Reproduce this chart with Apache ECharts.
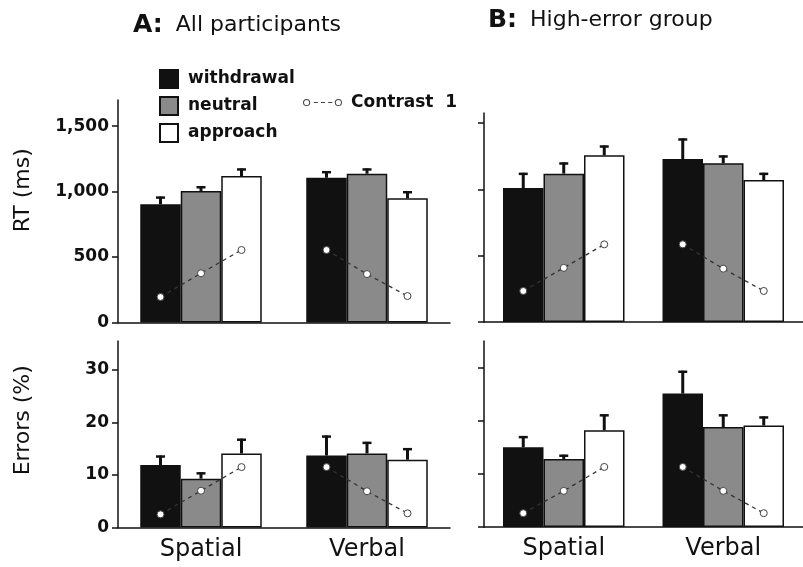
<!DOCTYPE html>
<html>
<head>
<meta charset="utf-8">
<script src="https://cdn.jsdelivr.net/npm/echarts@6/dist/echarts.min.js"></script>
<style>html,body{margin:0;padding:0;background:#fff;}#c{width:803px;height:567px;}</style>
</head>
<body>
<div id="c"></div>
<script>
// ---- data ----
const categories = ['Spatial', 'Verbal'];
const conditions = ['withdrawal', 'neutral', 'approach'];
const rtTicks = [0, 500, 1000, 1500];
const errTicks = [0, 10, 20, 30];

// rows: withdrawal, neutral, approach ; columns: Spatial, Verbal
const rtAllMean = [[903, 1106], [1005, 1137], [1119, 949]];
const rtAllSE = [[59, 50], [36, 40], [58, 54]];
const rtHighMean = [[1010, 1228], [1118, 1196], [1256, 1070]];
const rtHighSE = [[114, 155], [84, 59], [74, 54]];
const errAllMean = [[11.9, 13.7], [9.3, 14.1], [14.1, 12.9]];
const errAllSE = [[1.8, 3.8], [1.2, 2.2], [2.8, 2.2]];
const errHighMean = [[15.0, 25.1], [12.8, 18.8], [18.2, 19.1]];
const errHighSE = [[2.1, 4.3], [0.8, 2.4], [3.0, 1.7]];

// Contrast 1 points; rows: Spatial, Verbal ; columns: withdrawal, neutral, approach
const rtAllContrast = [[195, 376, 554], [554, 370, 202]];
const rtHighContrast = [[234, 408, 585], [585, 402, 234]];
const errAllContrast = [[2.5, 7.0, 11.5], [11.5, 6.9, 2.7]];
const errHighContrast = [[2.6, 6.8, 11.3], [11.3, 6.8, 2.6]];

// ---- styles ----
const BW = 40.5;
const barColors = ['#111111', '#8a8a8a', '#ffffff'];
const FONT = 'DejaVu Sans';

function errRender(params, api) {
  const ci = api.value(0), k = api.value(1), m = api.value(2), se = api.value(3);
  const base = api.coord([ci, m]);
  const top = api.coord([ci, m + se]);
  const x = base[0] + (k - 1) * BW;
  return {
    type: 'group',
    children: [
      { type: 'line', shape: { x1: x, y1: base[1], x2: x, y2: top[1] }, style: { stroke: '#111', lineWidth: 3 } },
      { type: 'line', shape: { x1: x - 4.5, y1: top[1] + 1, x2: x + 4.5, y2: top[1] + 1 }, style: { stroke: '#111', lineWidth: 2.5 } }
    ]
  };
}

function conRender(params, api) {
  const ci = api.value(0);
  const pts = [0, 1, 2].map(function (k) {
    const p = api.coord([ci, api.value(k + 1)]);
    return [p[0] + (k - 1) * BW, p[1]];
  });
  const children = [{
    type: 'polyline', shape: { points: pts },
    style: { stroke: '#333', lineWidth: 1.3, lineDash: [4, 4], fill: null }
  }];
  pts.forEach(function (p) {
    children.push({ type: 'circle', shape: { cx: p[0], cy: p[1], r: 3.5 }, style: { fill: '#fff', stroke: '#444', lineWidth: 1 } });
  });
  return { type: 'group', children: children };
}

const grids = [
  { left: 118, top: 100, right: 353, bottom: 244.5 },
  { left: 484, top: 113, right: -10, bottom: 245 },
  { left: 118, top: 341, right: 353, bottom: 39.5 },
  { left: 484, top: 341, right: -10, bottom: 40 }
];

const panels = [
  { mean: rtAllMean, se: rtAllSE, con: rtAllContrast },
  { mean: rtHighMean, se: rtHighSE, con: rtHighContrast },
  { mean: errAllMean, se: errAllSE, con: errAllContrast },
  { mean: errHighMean, se: errHighSE, con: errHighContrast }
];

const xAxes = grids.map(function (g, i) {
  return {
    type: 'category', gridIndex: i, data: categories,
    axisLine: { show: true, lineStyle: { color: '#111', width: 1.5 } },
    axisTick: { show: false },
    axisLabel: { show: i >= 2, color: '#111', fontFamily: FONT, fontSize: 24, margin: 10 }
  };
});

function fmtTick(v) { return String(v).replace(/\B(?=(\d{3})+(?!\d))/g, ','); }

const yAxes = grids.map(function (g, i) {
  const isRT = i < 2;
  const ticks = isRT ? rtTicks : errTicks;
  const ax = {
    type: 'value', gridIndex: i, min: 0,
    max: [1700, 1575, 35.5, 35][i],
    splitLine: { show: false },
    axisLine: { show: true, lineStyle: { color: '#111', width: 1.5 } },
    axisTick: { show: true, length: 6, lineStyle: { color: '#111', width: 1.5 }, customValues: ticks },
    axisLabel: {
      show: i % 2 === 0, customValues: ticks, formatter: fmtTick, margin: 9,
      color: '#111', fontFamily: FONT, fontWeight: 'bold', fontSize: 17
    }
  };
  if (i === 0 || i === 2) {
    ax.name = i === 0 ? 'RT (ms)' : 'Errors (%)';
    ax.nameLocation = 'middle';
    ax.nameRotate = 90;
    ax.nameGap = 84;
    ax.nameTextStyle = { color: '#111', fontFamily: FONT, fontSize: 22, padding: [0, 0, 0, i === 0 ? 42 : 28] };
  }
  return ax;
});

const series = [];
panels.forEach(function (p, gi) {
  conditions.forEach(function (c, k) {
    series.push({
      type: 'bar', name: c, xAxisIndex: gi, yAxisIndex: gi,
      data: p.mean[k], barWidth: BW, barGap: '0%',
      itemStyle: { color: barColors[k], borderColor: '#111', borderWidth: 1.5 },
      z: 2, silent: true
    });
  });
  const errData = [];
  conditions.forEach(function (c, k) {
    categories.forEach(function (cat, ci) {
      errData.push([ci, k, p.mean[k][ci], p.se[k][ci]]);
    });
  });
  series.push({
    type: 'custom', name: 'err' + gi, xAxisIndex: gi, yAxisIndex: gi,
    renderItem: errRender, data: errData, encode: { x: 0, y: 2 }, z: 3, silent: true
  });
  series.push({
    type: 'custom', name: 'Contrast 1', xAxisIndex: gi, yAxisIndex: gi,
    renderItem: conRender,
    data: p.con.map(function (row, ci) { return [ci, row[0], row[1], row[2]]; }),
    encode: { x: 0, y: [1, 2, 3] }, z: 4, silent: true,
    itemStyle: { color: '#444' }
  });
});

const conIcon = 'path://M0.5,4 A3.5,3.5 0 1,0 7.5,4 A3.5,3.5 0 1,0 0.5,4 Z M1.5,4 A2.5,2.5 0 1,1 6.5,4 A2.5,2.5 0 1,1 1.5,4 Z ' +
  'M11,3.5 L15,3.5 L15,4.6 L11,4.6 Z M18,3.5 L22,3.5 L22,4.6 L18,4.6 Z M25,3.5 L29,3.5 L29,4.6 L25,4.6 Z ' +
  'M31.5,4 A3.5,3.5 0 1,0 38.5,4 A3.5,3.5 0 1,0 31.5,4 Z M32.5,4 A2.5,2.5 0 1,1 37.5,4 A2.5,2.5 0 1,1 32.5,4 Z';

const richTitle = {
  b: { fontFamily: FONT, fontWeight: 'bold', fontSize: 25, color: '#111' },
  n: { fontFamily: FONT, fontWeight: 'normal', fontSize: 22, color: '#111', padding: [0, 0, 0, 8] }
};

const option = {
  backgroundColor: '#fff',
  animation: false,
  title: [
    { text: '{b|A:} {n|All participants}', left: 128, top: 8, textStyle: { fontWeight: 'normal', rich: richTitle } },
    { text: '{b|B:} {n|High-error group}', left: 483, top: 3, textStyle: { fontWeight: 'normal', rich: richTitle } }
  ],
  legend: [
    {
      data: conditions, orient: 'vertical', left: 154, top: 64,
      itemWidth: 18, itemHeight: 18, itemGap: 7, icon: 'rect', selectedMode: false,
      textStyle: { fontFamily: FONT, fontWeight: 'bold', fontSize: 17, color: '#111', padding: [0, 0, 0, 5] }
    },
    {
      data: [{ name: 'Contrast 1', icon: conIcon }], left: 298, top: 89,
      itemWidth: 39, itemHeight: 8, selectedMode: false,
      formatter: function () { return 'Contrast  1'; },
      textStyle: { fontFamily: FONT, fontWeight: 'bold', fontSize: 17, color: '#111', padding: [0, 0, 0, 4] }
    }
  ],
  grid: grids,
  xAxis: xAxes,
  yAxis: yAxes,
  series: series
};

const chart = echarts.init(document.getElementById('c'), null, { renderer: 'canvas' });
chart.setOption(option);
</script>
</body>
</html>
